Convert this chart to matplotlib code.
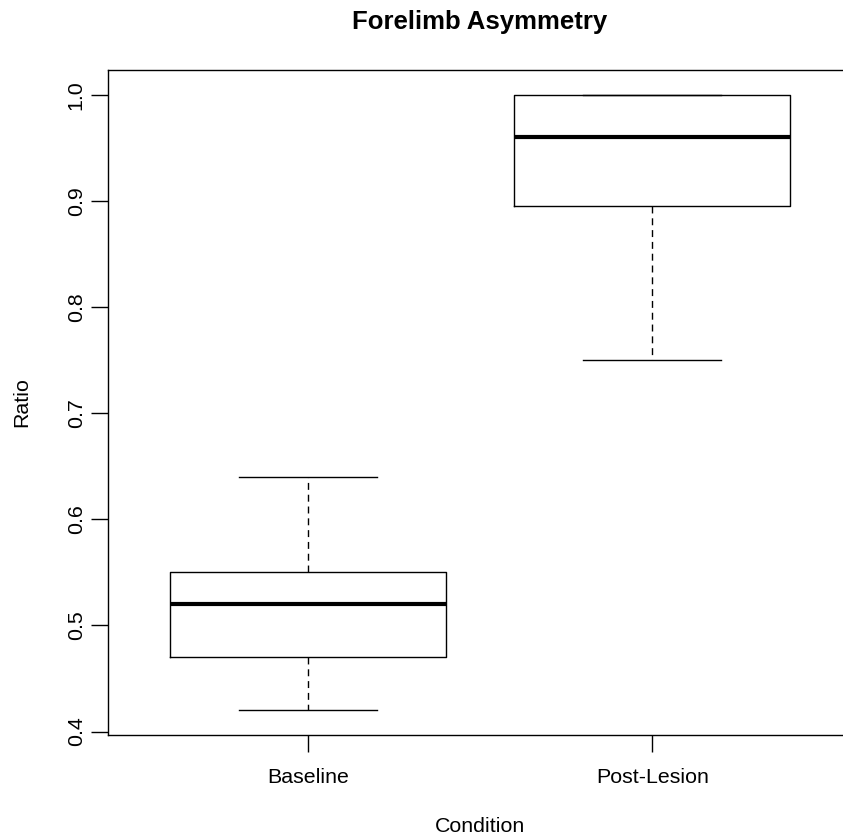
import matplotlib.pyplot as plt

# five-number summaries
conditions = ['Baseline', 'Post-Lesion']
whisker_low = [0.42, 0.75]
q1 = [0.47, 0.895]
medians = [0.52, 0.96]
q3 = [0.55, 1.00]
whisker_high = [0.64, 1.00]
y_ticks = [0.4, 0.5, 0.6, 0.7, 0.8, 0.9, 1.0]

plt.rcParams['font.family'] = ['Liberation Sans', 'DejaVu Sans']

stats = []
for i, name in enumerate(conditions):
    stats.append({'label': name, 'whislo': whisker_low[i], 'q1': q1[i],
                  'med': medians[i], 'q3': q3[i], 'whishi': whisker_high[i]})

fig = plt.figure(figsize=(8.43, 8.39), dpi=100)
# R-style plot region; the right frame edge runs just past the image edge
ax = fig.add_axes([108 / 843, 1 - 735 / 839, 744 / 843, 665 / 839])

ax.bxp(stats, positions=[1, 2], widths=0.8, showfliers=False,
       boxprops=dict(color='black', linewidth=1.0),
       medianprops=dict(color='black', linewidth=3.0, solid_capstyle='butt'),
       whiskerprops=dict(color='black', linewidth=1.0, linestyle=(0, (5, 3.5))),
       capprops=dict(color='black', linewidth=1.0),
       capwidths=0.4)

ax.set_xlim(0.42, 2.58)
lo = min(whisker_low)
hi = max(whisker_high)
pad = (hi - lo) * 0.04
ax.set_ylim(lo - pad, hi + pad)

ax.set_yticks(y_ticks)
ax.set_yticklabels([f'{v:.1f}' for v in y_ticks], rotation=90, va='center')
ax.set_xticks([1, 2])
ax.set_xticklabels(conditions)
ax.tick_params(axis='both', labelsize=15.4, length=12, width=1.0, color='black')
ax.tick_params(axis='y', pad=4)
ax.tick_params(axis='x', pad=12)

for s in ax.spines.values():
    s.set_linewidth(1.0)

ax.set_xlabel('Condition', fontsize=15.4, va='center')
ax.xaxis.set_label_coords(480 / 843 * 843 / 744 - 108 / 744, (735 - 826) / 665)
ax.set_ylabel('Ratio', fontsize=15.4, va='center')
ax.yaxis.set_label_coords((22 - 108) / 744, 0.5)
fig.text(480 / 843, 1 - 22 / 839, 'Forelimb Asymmetry', fontsize=18.5,
         fontweight='bold', ha='center', va='center')

fig.savefig('out.png', dpi=100)
